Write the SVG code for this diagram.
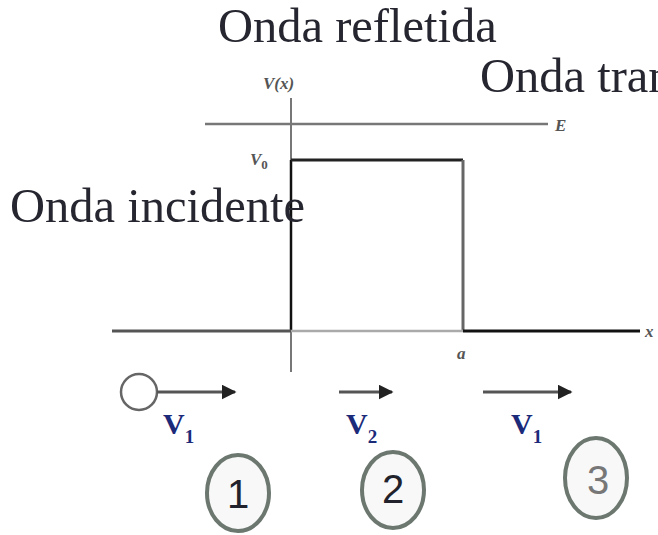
<svg xmlns="http://www.w3.org/2000/svg" width="658" height="535" viewBox="0 0 658 535">
<defs>
<marker id="ah" viewBox="0 0 10 10" refX="9" refY="5" markerWidth="5" markerHeight="5" orient="auto" markerUnits="strokeWidth">
<path d="M0,0 L10,5 L0,10 Z" fill="#222"/>
</marker>
</defs>
<style>
.big{font-family:"Liberation Serif","Times New Roman",serif;font-size:48.5px;fill:#262630}
.lbl{font-family:"Liberation Serif","Times New Roman",serif;font-style:italic;font-weight:bold;font-size:17px;fill:#555}
.v{font-family:"Liberation Serif","Times New Roman",serif;font-weight:bold;font-size:30px;fill:#1c2a7a}
.sub{font-size:19px}
.num{font-family:"Liberation Sans",Arial,sans-serif;font-size:40px;fill:#22222c;text-anchor:middle}
.circ{fill:#f8f8f8;stroke:#6b776f;stroke-width:4}
.arr{stroke:#555;stroke-width:3;fill:none;marker-end:url(#ah)}
</style>
<rect width="658" height="535" fill="#fff"/>
<g id="graph">
<line x1="205" y1="124" x2="548" y2="124" stroke="#777" stroke-width="2.5"/>
<line x1="291" y1="98" x2="291" y2="160" stroke="#777" stroke-width="2"/>
<line x1="291" y1="160" x2="291" y2="331" stroke="#111" stroke-width="2.5"/>
<line x1="291" y1="331" x2="291" y2="372" stroke="#777" stroke-width="2"/>
<line x1="291" y1="160" x2="463" y2="160" stroke="#222" stroke-width="3"/>
<line x1="463" y1="160" x2="463" y2="331" stroke="#666" stroke-width="3"/>
<line x1="112" y1="331" x2="291" y2="331" stroke="#555" stroke-width="3"/>
<line x1="291" y1="331" x2="463" y2="331" stroke="#aaa" stroke-width="2.5"/>
<line x1="463" y1="331" x2="640" y2="331" stroke="#111" stroke-width="3"/>
<text class="lbl" x="263" y="89">V(x)</text>
<text class="lbl" x="555" y="131">E</text>
<text class="lbl" x="250" y="165">V<tspan font-size="13" dy="4" font-style="normal">0</tspan></text>
<text class="lbl" x="457" y="359">a</text>
<text class="lbl" x="645" y="337">x</text>
</g>
<g id="labels">
<text class="big" x="218" y="42">Onda refletida</text>
<text class="big" x="480" y="92">Onda tran</text>
<text class="big" x="10" y="222">Onda incidente</text>
</g>
<g id="particle">
<circle cx="139" cy="392" r="18" fill="none" stroke="#666" stroke-width="2.5"/>
</g>
<g id="connectors">
<line class="arr" x1="157" y1="392" x2="235" y2="392"/>
<line class="arr" x1="339" y1="392" x2="392" y2="392"/>
<line class="arr" x1="483" y1="392" x2="571" y2="392"/>
</g>
<g id="velocities">
<text class="v" x="163" y="434">V<tspan class="sub" dy="9">1</tspan></text>
<text class="v" x="346" y="434">V<tspan class="sub" dy="9">2</tspan></text>
<text class="v" x="511" y="434">V<tspan class="sub" dy="9">1</tspan></text>
</g>
<g id="region1">
<ellipse class="circ" cx="238" cy="493" rx="31" ry="38"/>
<text class="num" x="238" y="508">1</text>
</g>
<g id="region2">
<ellipse class="circ" cx="393" cy="490" rx="31" ry="38"/>
<text class="num" x="393" y="503">2</text>
</g>
<g id="region3">
<ellipse class="circ" cx="596" cy="478" rx="31" ry="40"/>
<text class="num" x="598" y="494" style="fill:#777">3</text>
</g>
</svg>
